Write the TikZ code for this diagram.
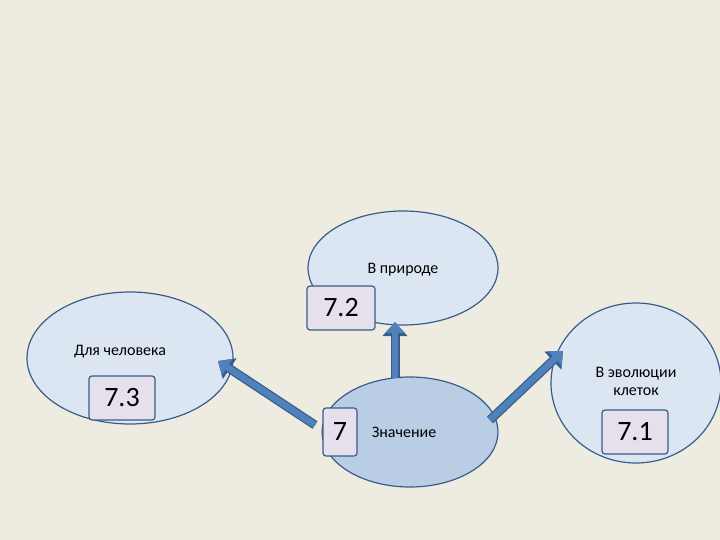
\documentclass[tikz,border=0pt]{standalone}
\usepackage{fontspec}
\setmainfont{Carlito}
\usetikzlibrary{shapes.geometric,arrows.meta}
\definecolor{bg}{HTML}{EEECE1}
\definecolor{ell}{HTML}{DCE6F2}
\definecolor{ellc}{HTML}{B9CDE5}
\definecolor{edge}{HTML}{385D8A}
\definecolor{arr}{HTML}{4F81BD}
\definecolor{boxf}{HTML}{E6E0EC}
\tikzset{
 ov/.style={ellipse,draw=edge,line width=1.2pt,fill=ell,inner sep=0pt},
 num/.style={draw=edge,line width=1.2pt,fill=boxf,rounded corners=3pt,minimum height=44pt,font=\fontsize{28}{30}\selectfont,inner sep=2pt},
 lab/.style={font=\fontsize{16}{18}\selectfont,align=center},
 blk/.style={line width=9pt,draw=edge,-{Triangle[length=14pt,width=24pt]}},
 blki/.style={line width=6.5pt,draw=arr,-{Triangle[length=11pt,width=19pt]}}
}
\begin{document}
\begin{tikzpicture}[x=1pt,y=-1pt]
\fill[bg] (0,0) rectangle (720,540);
\useasboundingbox (0,0) rectangle (720,540);
\node[ov,minimum width=190pt,minimum height=114pt] (top) at (403,268) {};
\node[ov,minimum width=206pt,minimum height=132pt] (left) at (130,358) {};
\node[ov,minimum width=170pt,minimum height=160pt] (right) at (636,383) {};
\node[ov,fill=ellc,minimum width=176pt,minimum height=110pt] (mid) at (410,432) {};
\node[lab] (tl) at (403,270) {В природе};
\node[lab] (ll) at (120,352) {Для человека};
\node[lab] (rl) at (636,381) {В эволюции\\клеток};
\node[lab] (ml) at (404,432) {Значение};
\node[num,minimum width=68pt] (n2) at (341,308) {7.2};
\node[num,minimum width=66pt] (n3) at (122,398) {7.3};
\node[num,minimum width=34pt,minimum height=48pt] (n0) at (340,432) {7};
\node[num,minimum width=66pt] (n1) at (635,432) {7.1};
\coordinate (a1) at (395,378); \coordinate (b1) at (395,322);
\coordinate (a2) at (315,425); \coordinate (b2) at (218,361);
\coordinate (a3) at (490,420); \coordinate (b3) at (563,351);
\foreach \s/\e in {a1/b1,a2/b2,a3/b3}{
 \draw[blk] (\s) -- (\e);
 \draw[blki] (\s) -- (\e);
}
\end{tikzpicture}
\end{document}
